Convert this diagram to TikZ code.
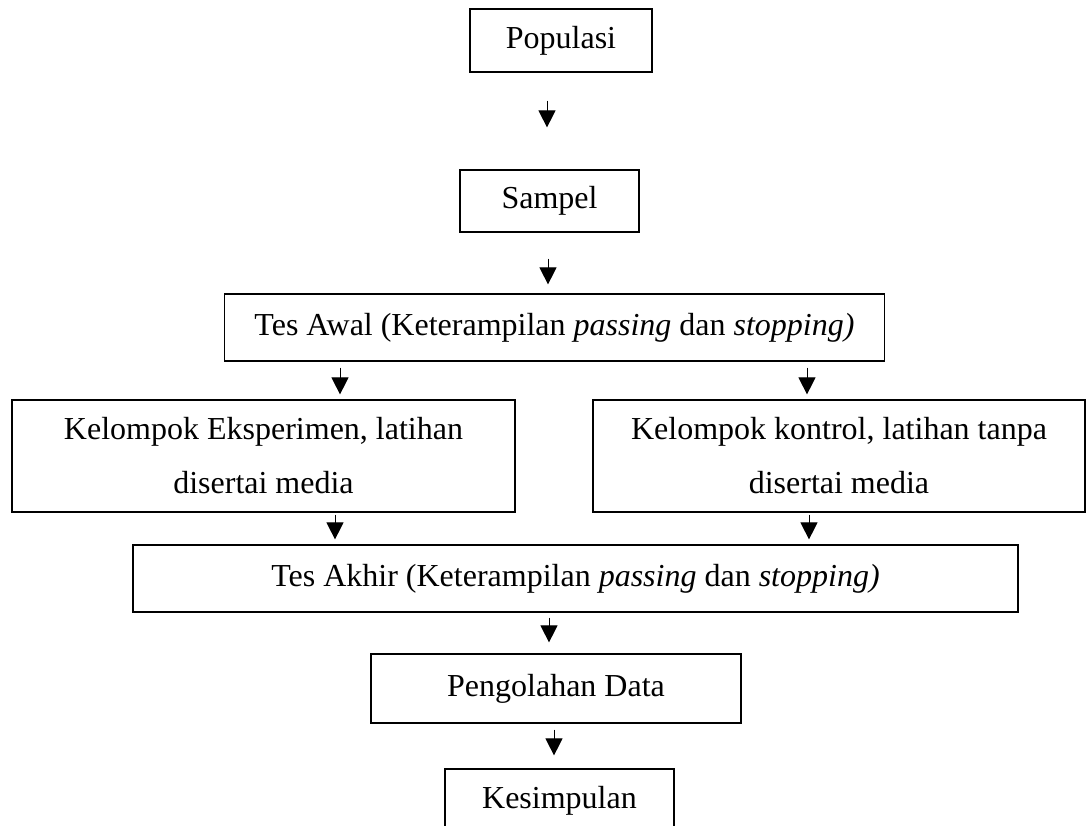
\documentclass[tikz,border=0pt]{standalone}
\usepackage{fontspec}
\setmainfont{Liberation Serif}
\usetikzlibrary{arrows.meta}
\tikzset{
  box/.style={draw=black, line width=1.2pt, inner sep=0pt, align=center,
    font=\fontsize{32}{54}\selectfont},
  arr/.style={line width=1pt, -{Triangle[length=17pt,width=17pt]}}
}
\begin{document}
\begin{tikzpicture}[x=1pt,y=-1pt]
\useasboundingbox (0,0) rectangle (1090,825);
\clip (0,0) rectangle (1090,825);
\node[box, minimum width=182pt, minimum height=63pt] (pop) at (561,40.5) {Populasi};
\node[box, minimum width=179pt, minimum height=62pt] (sam) at (549.5,201) {Sampel};
\node[box, minimum width=660pt, minimum height=67pt] (awal) at (554.5,327.5) {Tes Awal (Keterampilan \textit{passing} dan \textit{stopping)}};
\node[box, minimum width=503pt, minimum height=112pt] (eks) at (263.5,456) {Kelompok Eksperimen, latihan\\disertai media};
\node[box, minimum width=492pt, minimum height=112pt] (kon) at (839,456) {Kelompok kontrol, latihan tanpa\\disertai media};
\node[box, minimum width=885pt, minimum height=67pt] (akhir) at (575.5,578.5) {Tes Akhir (Keterampilan \textit{passing} dan \textit{stopping)}};
\node[box, minimum width=370pt, minimum height=69pt] (olah) at (556,688.5) {Pengolahan Data};
\node[box, minimum width=229pt, minimum height=63pt] (simp) at (559.5,800.5) {Kesimpulan};
\coordinate (x1) at (547,0);
\coordinate (x2) at (548,0);
\coordinate (x3) at (340,0);
\coordinate (x4) at (807,0);
\coordinate (x5) at (335,0);
\coordinate (x6) at (809,0);
\coordinate (x7) at (549,0);
\coordinate (x8) at (554,0);
\draw[arr, shorten <=28pt, shorten >=42pt] (x1 |- pop.south) -- (x1 |- sam.north);
\draw[arr, shorten <=26pt, shorten >=9pt] (x2 |- sam.south) -- (x2 |- awal.north);
\draw[arr, shorten <=6pt, shorten >=5pt] (x3 |- awal.south) -- (x3 |- eks.north);
\draw[arr, shorten <=6pt, shorten >=5pt] (x4 |- awal.south) -- (x4 |- kon.north);
\draw[arr, shorten <=2pt, shorten >=5pt] (x5 |- eks.south) -- (x5 |- akhir.north);
\draw[arr, shorten <=2pt, shorten >=5pt] (x6 |- kon.south) -- (x6 |- akhir.north);
\draw[arr, shorten <=5pt, shorten >=11pt] (x7 |- akhir.south) -- (x7 |- olah.north);
\draw[arr, shorten <=6pt, shorten >=13pt] (x8 |- olah.south) -- (x8 |- simp.north);
\end{tikzpicture}
\end{document}
